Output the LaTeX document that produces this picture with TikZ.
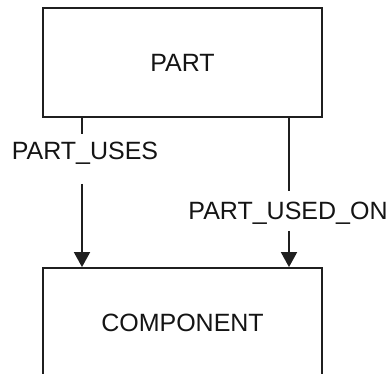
\documentclass[tikz,border=0pt]{standalone}
\usepackage{fontspec}
\setmainfont{Liberation Sans}
\usetikzlibrary{arrows.meta}
\begin{document}
\begin{tikzpicture}[x=1pt,y=1pt,
  entity/.style={draw=black!88, line width=1.8pt, minimum width=279pt, minimum height=109pt, inner sep=0pt, font=\fontsize{25}{30}\selectfont, text=black!92},
  rel/.style={font=\fontsize{25}{30}\selectfont, text=black!92, inner sep=0pt},
  conn/.style={draw=black!88, line width=1.8pt},
  arr/.style={conn, -{Triangle[width=16pt,length=15pt]}}]
\useasboundingbox (0,0) rectangle (391,-374);
\clip (0,0) rectangle (391,-374);
\node[entity] (part) at (182.5,-62.5) {PART};
\node[entity] (comp) at (182.5,-322.5) {COMPONENT};
\node[rel] (uses) at (85,-153) {PART\_USES};
\node[rel] (usedon) at (288,-213.5) {PART\_USED\_ON};
\coordinate (a1) at (82,-134);
\coordinate (a2) at (82,-184);
\coordinate (b1) at (289,-191);
\coordinate (b2) at (289,-231);
\draw[conn] (part.south -| a1) -- (a1);
\draw[arr] (a2) -- (comp.north -| a2);
\draw[conn] (part.south -| b1) -- (b1);
\draw[arr] (b2) -- (comp.north -| b2);
\end{tikzpicture}
\end{document}
